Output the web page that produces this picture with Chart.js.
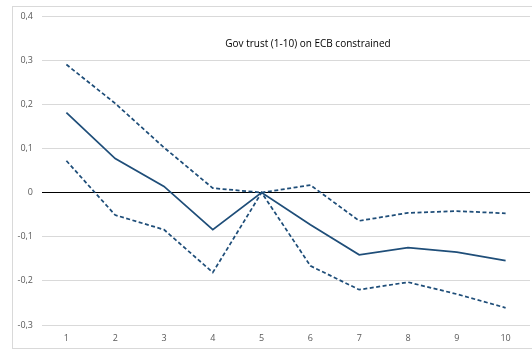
<!DOCTYPE html>
<html>
<head>
<meta charset="utf-8">
<script src="https://cdn.jsdelivr.net/npm/chart.js@4"></script>
<style>
  html, body { margin: 0; padding: 0; background: #fff; }
  #wrap { width: 532px; height: 349px; position: relative; }
</style>
</head>
<body>
<div id="wrap"><canvas id="trustChart"></canvas></div>
<script>
// data
var categories = ['1', '2', '3', '4', '5', '6', '7', '8', '9', '10'];
var estimate = [0.181, 0.077, 0.014, -0.084, 0, -0.073, -0.141, -0.125, -0.135, -0.154];
var upperBound = [0.290, 0.202, 0.102, 0.010, 0, 0.017, -0.064, -0.046, -0.042, -0.047];
var lowerBound = [0.072, -0.051, -0.084, -0.181, 0, -0.166, -0.220, -0.203, -0.230, -0.261];
var chartTitle = 'Gov trust (1-10) on ECB constrained';

var lineColor = '#1f4e79';

// outer frame + title drawn inside the plot area, like the excel original
var framePlugin = {
  id: 'frame',
  beforeDraw: function(chart) {
    var c = chart.ctx;
    c.save();
    c.fillStyle = '#fff';
    c.fillRect(0, 0, chart.width, chart.height);
    c.strokeStyle = '#d9d9d9';
    c.lineWidth = 1;
    c.strokeRect(12.5, 6.5, chart.width - 12, chart.height - 7);
    c.restore();
  },
  afterDraw: function(chart) {
    var c = chart.ctx;
    var a = chart.chartArea;
    c.save();
    c.font = '10px "Open Sans"';
    c.fillStyle = '#000';
    c.textAlign = 'center';
    c.textBaseline = 'middle';
    c.fillText(chartTitle, a.left + (a.right - a.left) * 0.545, 44);
    c.restore();
  }
};

var ctx = document.getElementById('trustChart').getContext('2d');
var trustChart = new Chart(ctx, {
  type: 'line',
  data: {
    labels: categories,
    datasets: [{
      data: upperBound,
      borderColor: lineColor,
      borderWidth: 1.75,
      borderDash: [4, 2.5],
      pointRadius: 0,
      fill: false,
      tension: 0
    }, {
      data: estimate,
      borderColor: lineColor,
      borderWidth: 1.75,
      pointRadius: 0,
      fill: false,
      tension: 0
    }, {
      data: lowerBound,
      borderColor: lineColor,
      borderWidth: 1.75,
      borderDash: [4, 2.5],
      pointRadius: 0,
      fill: false,
      tension: 0
    }]
  },
  options: {
    responsive: true,
    maintainAspectRatio: false,
    animation: false,
    layout: {
      padding: { left: 12, top: 16, right: 2, bottom: 0 }
    },
    plugins: {
      legend: { display: false },
      title: { display: false },
      tooltip: { enabled: false }
    },
    scales: {
      x: {
        offset: true,
        grid: { display: false, drawTicks: false },
        border: { display: false },
        ticks: {
          color: '#595959',
          font: { family: 'Open Sans', size: 9 },
          padding: 8,
          maxRotation: 0
        },
        afterFit: function(scale) { scale.height = 24; }
      },
      y: {
        min: -0.3,
        max: 0.4,
        grid: {
          drawTicks: false,
          lineWidth: 1,
          color: function(c) { return c.tick && Math.abs(c.tick.value) < 1e-9 ? '#000' : '#d9d9d9'; }
        },
        border: { display: false },
        ticks: {
          stepSize: 0.1,
          color: '#595959',
          font: { family: 'Open Sans', size: 9 },
          padding: 9,
          callback: function(value) {
            var v = Math.round(value * 10) / 10;
            return v === 0 ? '0' : v.toFixed(1).replace('.', ',');
          }
        },
        afterFit: function(scale) { scale.width = 30; }
      }
    }
  },
  plugins: [framePlugin]
});
</script>
</body>
</html>
